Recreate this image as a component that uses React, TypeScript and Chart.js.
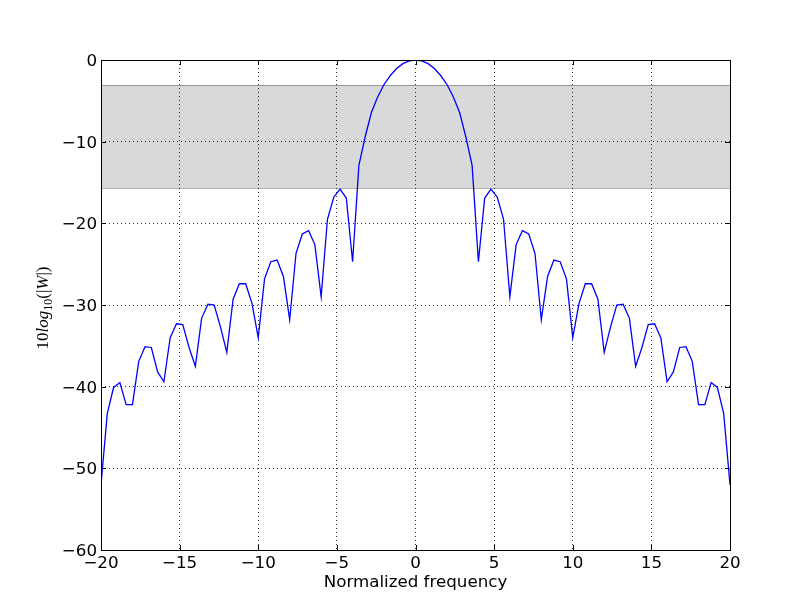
import { useEffect, useRef } from "react"
import { Chart, registerables } from "chart.js"

Chart.register(...registerables)

// normalized frequency samples
const freqs = [
  -20, -19.6, -19.2, -18.8, -18.4, -18, -17.6, -17.2, -16.8, -16.4,
  -16, -15.6, -15.2, -14.8, -14.4, -14, -13.6, -13.2, -12.8, -12.4,
  -12, -11.6, -11.2, -10.8, -10.4, -10, -9.6, -9.2, -8.8, -8.4,
  -8, -7.6, -7.2, -6.8, -6.4, -6, -5.6, -5.2, -4.8, -4.4,
  -4, -3.6, -3.2, -2.8, -2.4, -2, -1.6, -1.2, -0.8, -0.4,
  0,
  0.4, 0.8, 1.2, 1.6, 2, 2.4, 2.8, 3.2, 3.6, 4,
  4.4, 4.8, 5.2, 5.6, 6, 6.4, 6.8, 7.2, 7.6, 8,
  8.4, 8.8, 9.2, 9.6, 10, 10.4, 10.8, 11.2, 11.6, 12,
  12.4, 12.8, 13.2, 13.6, 14, 14.4, 14.8, 15.2, 15.6, 16,
  16.4, 16.8, 17.2, 17.6, 18, 18.4, 18.8, 19.2, 19.6, 20,
]

// 10 log10 |W| in dB
const powerDb = [
  -52, -43.3, -40.1, -39.5, -42.2, -42.2, -36.9, -35.1, -35.2, -38.2,
  -39.4, -34, -32.3, -32.4, -35.2, -37.5, -31.6, -29.9, -30, -32.7,
  -35.8, -29.3, -27.4, -27.4, -29.8, -34, -26.8, -24.7, -24.5, -26.5,
  -31.8, -23.7, -21.3, -20.9, -22.6, -29, -19.5, -16.8, -15.8, -16.9,
  -24.7, -12.9, -9.4, -6.4, -4.5, -3, -1.9, -1.05, -0.45, -0.1,
  0,
  -0.1, -0.45, -1.05, -1.9, -3, -4.5, -6.4, -9.4, -12.9, -24.7,
  -16.9, -15.8, -16.8, -19.5, -29, -22.6, -20.9, -21.3, -23.7, -31.8,
  -26.5, -24.5, -24.7, -26.8, -34, -29.8, -27.4, -27.4, -29.3, -35.8,
  -32.7, -30, -29.9, -31.6, -37.5, -35.2, -32.4, -32.3, -34, -39.4,
  -38.2, -35.2, -35.1, -36.9, -42.2, -42.2, -39.5, -40.1, -43.3, -52,
]

const xTicks = [-20, -15, -10, -5, 0, 5, 10, 15, 20]
const yTicks = [-60, -50, -40, -30, -20, -10, 0]

// shaded span: -3 dB down to the highest sidelobe
const bandTop = -3
const bandBottom = -15.7

const FONT = "'DejaVu Sans', sans-serif"
const SERIF = "'Liberation Serif', 'DejaVu Serif', serif"

const fmt = (v: number) => (v < 0 ? "\u2212" + Math.abs(v) : String(v))

const decorPlugin = {
  id: "decor",
  beforeDraw(chart: any) {
    const { ctx, chartArea: a, scales } = chart

    // nudge y tick labels down a little, like matplotlib's centring
    scales.y.getLabelItems().forEach((it: any) => {
      if (!it._nudged) {
        it.options.translation[1] += 1.5
        it._nudged = true
      }
    })

    const yT = Math.round(scales.y.getPixelForValue(bandTop))
    const yB = Math.round(scales.y.getPixelForValue(bandBottom))
    ctx.save()
    ctx.fillStyle = "rgba(128,128,128,0.3)"
    ctx.fillRect(a.left, yT, a.right - a.left, yB - yT)
    ctx.strokeStyle = "rgba(0,0,0,0.3)"
    ctx.lineWidth = 1
    ctx.beginPath()
    ctx.moveTo(a.left, yT + 0.5)
    ctx.lineTo(a.right, yT + 0.5)
    ctx.moveTo(a.left, yB + 0.5)
    ctx.lineTo(a.right, yB + 0.5)
    ctx.stroke()
    ctx.restore()
  },
  afterDraw(chart: any) {
    const { ctx, chartArea: a, scales } = chart
    ctx.save()
    ctx.strokeStyle = "#000"
    ctx.lineWidth = 1
    // inward tick marks
    const tl = 5
    ctx.beginPath()
    xTicks.forEach((v) => {
      const px = Math.round(scales.x.getPixelForValue(v)) + 0.5
      ctx.moveTo(px, a.bottom)
      ctx.lineTo(px, a.bottom - tl)
      ctx.moveTo(px, a.top)
      ctx.lineTo(px, a.top + tl)
    })
    yTicks.forEach((v) => {
      const py = Math.round(scales.y.getPixelForValue(v)) + 0.5
      ctx.moveTo(a.left, py)
      ctx.lineTo(a.left + tl, py)
      ctx.moveTo(a.right, py)
      ctx.lineTo(a.right - tl, py)
    })
    ctx.stroke()
    // frame
    ctx.strokeRect(a.left + 0.5, a.top + 0.5, a.right - a.left, a.bottom - a.top)

    // y axis label: 10log_{10}(|W|)
    const parts = [
      { t: "10", f: `17px ${SERIF}`, dy: 0 },
      { t: "log", f: `italic 17px ${SERIF}`, dy: 0 },
      { t: "10", f: `12px ${SERIF}`, dy: 4 },
      { t: "(|", f: `17px ${SERIF}`, dy: 0 },
      { t: "W", f: `italic 17px ${SERIF}`, dy: 0 },
      { t: "|)", f: `17px ${SERIF}`, dy: 0 },
    ]
    let total = 0
    const widths = parts.map((p) => {
      ctx.font = p.f
      const w = ctx.measureText(p.t).width
      total += w
      return w
    })
    ctx.translate(48, (a.top + a.bottom) / 2 + 3)
    ctx.rotate(-Math.PI / 2)
    ctx.fillStyle = "#000"
    ctx.textBaseline = "alphabetic"
    ctx.textAlign = "left"
    let x = -total / 2
    parts.forEach((p, i) => {
      ctx.font = p.f
      ctx.fillText(p.t, x, p.dy)
      x += widths[i]
    })
    ctx.restore()
  },
}

export default function App() {
  const canvasRef = useRef<HTMLCanvasElement>(null)
  const chartInstance = useRef<Chart | null>(null)

  useEffect(() => {
    if (!canvasRef.current) return
    if (chartInstance.current) chartInstance.current.destroy()

    const points = freqs.map((f, i) => ({ x: f, y: powerDb[i] }))

    chartInstance.current = new Chart(canvasRef.current, {
      type: "line",
      data: {
        datasets: [
          {
            data: points,
            borderColor: "#0000ff",
            borderWidth: 1.3,
            pointRadius: 0,
            tension: 0,
            fill: false,
          },
        ],
      },
      options: {
        animation: false,
        responsive: true,
        maintainAspectRatio: false,
        layout: { padding: { left: 0, top: 60, right: 82, bottom: 0 } },
        plugins: {
          legend: { display: false },
          tooltip: { enabled: false },
        },
        scales: {
          x: {
            type: "linear",
            min: -20,
            max: 20,
            afterBuildTicks: (s: any) => {
              s.ticks = xTicks.map((v) => ({ value: v }))
            },
            afterFit: (s: any) => {
              s.height = 62
            },
            grid: {
              color: "rgba(0,0,0,0.8)",
              lineWidth: 1,
              drawTicks: false,
            },
            border: { display: false, dash: [1, 3] },
            ticks: {
              padding: 4,
              color: "#000",
              font: { family: FONT, size: 16.7 },
              maxRotation: 0,
              callback: (v: any) => fmt(Number(v)),
            },
            title: {
              display: true,
              text: "Normalized frequency",
              color: "#000",
              font: { family: FONT, size: 16.7 },
              padding: { top: 0, bottom: 19 },
            },
          },
          y: {
            type: "linear",
            min: -60,
            max: 0,
            afterBuildTicks: (s: any) => {
              s.ticks = yTicks.map((v) => ({ value: v }))
            },
            afterFit: (s: any) => {
              s.width = 101
            },
            grid: {
              color: "rgba(0,0,0,0.8)",
              lineWidth: 1,
              drawTicks: false,
            },
            border: { display: false, dash: [1, 3] },
            ticks: {
              padding: 4,
              color: "#000",
              font: { family: FONT, size: 16.7 },
              callback: (v: any) => fmt(Number(v)),
            },
          },
        },
      },
      plugins: [decorPlugin],
    } as any)

    return () => {
      if (chartInstance.current) {
        chartInstance.current.destroy()
        chartInstance.current = null
      }
    }
  }, [])

  return (
    <div style={{ position: "absolute", left: 0, top: 0, width: 812, height: 612, background: "#fff" }}>
      <canvas ref={canvasRef} />
    </div>
  )
}
